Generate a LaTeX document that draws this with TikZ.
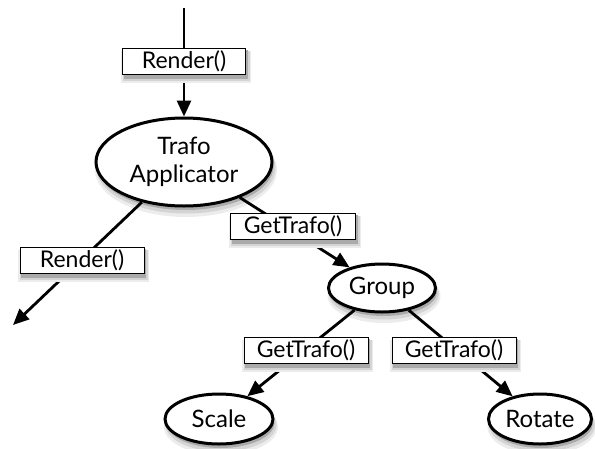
\documentclass[tikz,border=0pt]{standalone}
\usepackage{fontspec}
\setmainfont{Lato}
\usetikzlibrary{shapes.geometric,arrows.meta}
\definecolor{shA}{RGB}{236,236,236}
\definecolor{shB}{RGB}{212,212,212}
\definecolor{shC}{RGB}{170,170,170}
\newcommand\myovalsh[4]{%
  \fill[shA] ({#1+2},{-#2-8}) ellipse [x radius={#3+3}, y radius={#4+3}];
  \fill[shB] ({#1+2},{-#2-6}) ellipse [x radius={#3+1.5}, y radius={#4+1.5}];
  \fill[shC] ({#1+1.5},{-#2-4}) ellipse [x radius={#3}, y radius={#4}];}
\newcommand\myboxsh[4]{%
  \fill[shA] ({#1-#3-2},{-#2-#4-9}) rectangle ({#1+#3+5},{-#2+#4-3});
  \fill[shB] ({#1-#3},{-#2-#4-7}) rectangle ({#1+#3+4},{-#2+#4-3});
  \fill[shC] ({#1-#3+1},{-#2-#4-5}) rectangle ({#1+#3+2},{-#2+#4-2});}
\tikzset{
  oval/.style={ellipse, draw, line width=3pt, fill=white, inner sep=0pt,
    font=\fontsize{24}{28}\selectfont, align=center},
  lbl/.style={rectangle, draw, line width=1pt, fill=white, inner sep=0pt,
    minimum height=26pt, font=\fontsize{23}{24}\selectfont},
  edge/.style={line width=2.8pt, -{Triangle[length=16pt,width=14pt]}}
}
\begin{document}
\begin{tikzpicture}[x=1pt,y=1pt]
\useasboundingbox (0,0) rectangle (595,-448);
% shadows of the ovals
\myovalsh{184}{162}{88}{44}
\myovalsh{382}{288}{53.5}{24}
\myovalsh{219}{419}{54}{25}
\myovalsh{540}{419}{51.5}{25}
\node[oval, minimum width=176pt, minimum height=88pt] (trafo) at (184,-162) {Trafo\\Applicator};
\node[oval, minimum width=107pt, minimum height=48pt] (group) at (382,-288) {Group};
\node[oval, minimum width=108pt, minimum height=50pt] (scale) at (219,-419) {Scale};
\node[oval, minimum width=103pt, minimum height=50pt] (rotate) at (540,-419) {Rotate};
\coordinate (top) at (184,-8);
\coordinate (lend) at (13,-325);
\draw[edge] (top) -- (trafo);
\draw[edge] (trafo) -- (lend);
\draw[edge] (trafo) -- (group);
\draw[edge] (group) -- (scale);
\draw[edge] (group) -- (rotate);
% shadows of the labels
\myboxsh{184}{61}{61.5}{13}
\myboxsh{82}{260}{62}{13}
\myboxsh{293}{226}{62.5}{13}
\myboxsh{306}{350}{62}{13}
\myboxsh{454}{350}{62}{13}
\node[lbl, minimum width=123pt] (r1) at (184,-61) {Render()};
\node[lbl, minimum width=124pt] (r2) at (82,-260) {Render()};
\node[lbl, minimum width=125pt] (g1) at (293,-226) {GetTrafo()};
\node[lbl, minimum width=124pt] (g2) at (306,-350) {GetTrafo()};
\node[lbl, minimum width=124pt] (g3) at (454,-350) {GetTrafo()};
\end{tikzpicture}
\end{document}
